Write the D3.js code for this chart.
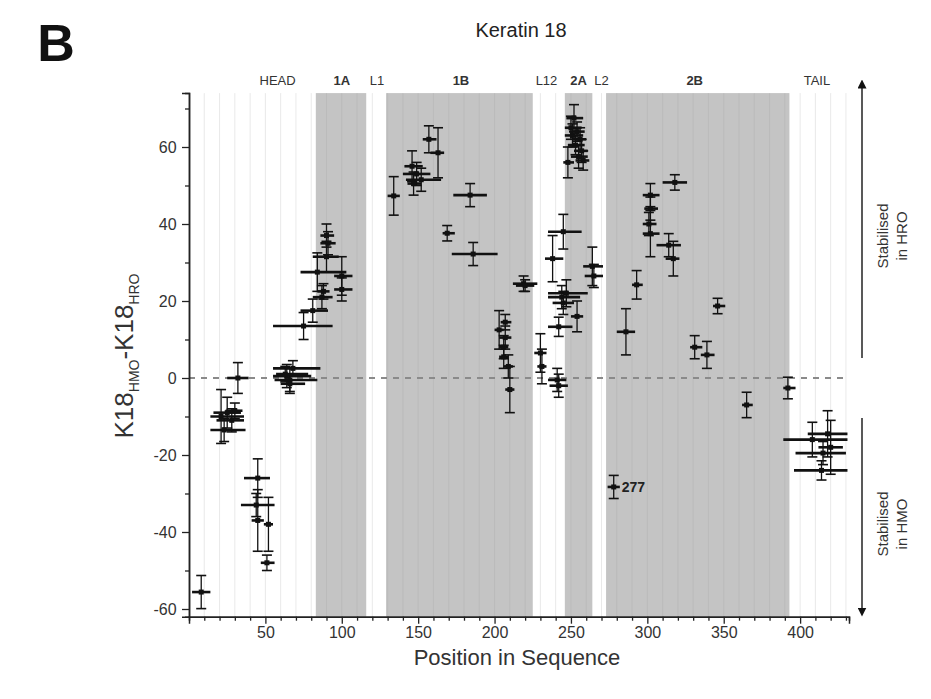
<!DOCTYPE html>
<html><head><meta charset="utf-8">
<script src="https://cdn.jsdelivr.net/npm/d3@7"></script>
<style>body{margin:0;background:#fff;} text{font-family:"Liberation Sans",Arial,sans-serif;}</style>
</head><body><svg id="c" width="931" height="699"></svg>
<script>
// ---- data ----
const pos    = [8,21,25,28,23,30,32,45,44,45,52,51,68,64,66,63,66,75,81,87,88,84,90,91,90,100,100,
                134,146,149,152,147,157,163,184,169,186,219,220,203,207,207,206,206,209,210,
                230,231,241,242,242,238,245,247,244,245,254,
                252,250,254,251,256,253,257,255,248,258,264,265,
                278,286,293,302,302,301,302,318,314,317,331,339,346,365,392,
                408,418,415,414,420];
const xStart = [2,14,16,18,14,24,25,36,34,41,49,47,55,55,56,57,60,55,73,81,84,73,81,86,86,95,95,
                130,141,140,142,143,153,158,173,166,172,212,214,200,204,203,203,203,206,207,
                226,228,235,236,235,233,235,235,235,238,250,
                247,246,249,246,251,248,252,250,245,253,258,259,
                274,280,290,297,298,297,297,310,306,312,328,335,343,362,389,
                389,405,397,396,412];
const xEnd   = [14,36,34,36,37,35,39,53,56,49,55,56,86,80,84,78,76,94,91,94,92,103,98,96,95,107,107,
                138,153,158,165,152,162,167,195,174,202,228,226,206,211,211,209,209,212,213,
                234,234,247,248,251,245,257,261,256,252,258,
                258,257,259,258,260,259,261,261,252,262,271,271,
                282,292,297,308,307,306,308,326,322,321,336,344,351,369,397,
                431,431,430,431,428];
const diff   = [-55.6,-10,-9,-11,-13.5,-8.5,0,-26,-33,-37,-38,-48,2.5,0.5,-0.5,1,-1.5,13.5,17.5,21,22.5,27.5,31.5,35,37,26.5,23,
                47.3,55,53,51.5,50.5,62,58.5,47.5,37.6,32.2,24.5,24,12.5,14.5,10.5,8,5.5,3,-3,
                6.5,3,-0.5,-2,13.3,31,38,22,21,19.5,16,
                67.5,65,64,63,62,60.5,59,57.5,56,56.5,29,26.5,
                -28.3,12,24.2,47.5,44,40,37.5,50.8,34.5,31,8,6,18.7,-7,-2.6,
                -16,-14.5,-19.5,-24,-18];
const err    = [4.3,7,4,3,3,2,4,5,3,8,7,2,2,3,3,2,2.5,3.5,3,3,2,5,4,3,3,5,3,
                5,4,3,3,3,3.5,6.5,3,2,3,2,1.5,5,2,3,3,3,3,6,
                5,4.5,3,3,2.5,6,4.5,3.5,3,3,4,
                3.5,3,2.5,3,3,2.5,3,3,4,2.5,5,3,
                3,6,3.7,3,3,3,6,2,3,4.5,3,3.5,2,3.3,2.8,
                4.5,6,3,2.5,7];
const annotated = {pos: 278, label: "277"};
const domainNames  = ["HEAD","1A","L1","1B","L12","2A","L2","2B","TAIL"];
const domainLabelAt= [58,100,123,178,234,255,270,331,411];
const domainBold   = [false,true,false,true,false,true,false,true,false];
const helixNames = ["1A","1B","2A","2B"];
const helixStart = [83,129,246,273];
const helixEnd   = [116,225,264,393];
const xTicks = [50,100,150,200,250,300,350,400];
const yTicks = [-60,-40,-20,0,20,40,60];

// ---- layout ----
const svg = d3.select("#c");
const x = d3.scaleLinear().domain([0,432]).range([189,849]);
const y = d3.scaleLinear().domain([-62,74]).range([616.7,93.1]);
const yTop = y(74), yBot = y(-62);
const fmt = d => String(d); // plain hyphen-minus like the original

// helix shading
svg.selectAll("rect.h").data(helixStart).join("rect")
  .attr("x",(d)=>x(d)).attr("y",yTop)
  .attr("width",(d,i)=>x(helixEnd[i])-x(d)).attr("height",yBot-yTop)
  .attr("fill","#c4c4c4");

// faint vertical grid every 10
svg.selectAll("line.g").data(d3.range(10,431,10)).join("line")
  .attr("x1",d=>x(d)).attr("x2",d=>x(d)).attr("y1",yTop).attr("y2",yBot)
  .attr("stroke","#9a9a9a").attr("stroke-opacity",0.22).attr("stroke-width",1);

// zero dashed line
svg.append("line").attr("x1",x(0)).attr("x2",x(432)).attr("y1",y(0)).attr("y2",y(0))
  .attr("stroke","#8a8a8a").attr("stroke-width",2).attr("stroke-dasharray","6,6");

// axes
const xAxisMinor = d3.axisBottom(x).tickValues(d3.range(10,431,10).filter(v=>v%50)).tickSize(4).tickFormat("");
const xAxisMajor = d3.axisBottom(x).tickValues(xTicks).tickSize(7).tickFormat(fmt);
const gx = svg.append("g").attr("transform",`translate(0,${yBot})`);
gx.call(xAxisMinor);
gx.append("g").call(xAxisMajor);
const yAxisMinor = d3.axisLeft(y).tickValues([-50,-30,-10,10,30,50,70]).tickSize(4).tickFormat("");
const yAxisMajor = d3.axisLeft(y).tickValues(yTicks).tickSize(7).tickFormat(fmt);
const gy = svg.append("g").attr("transform",`translate(${x(0)},0)`);
gy.call(yAxisMinor);
gy.append("g").call(yAxisMajor);
svg.selectAll(".domain").attr("stroke","#222").attr("stroke-width",1.5);
svg.selectAll(".tick line").attr("stroke","#222").attr("stroke-width",1.3);
gx.selectAll("text").attr("font-size",16).attr("fill","#333");
gy.selectAll("text").attr("font-size",16).attr("fill","#333").attr("dx","-0.15em");

// data marks
const idx = d3.range(pos.length);
const mk = svg.append("g").attr("stroke","#111");
idx.forEach(i=>{
  const cx = x(pos[i]), cy = y(diff[i]);
  mk.append("line").attr("x1",x(xStart[i])).attr("x2",x(xEnd[i])).attr("y1",cy).attr("y2",cy).attr("stroke-width",2.6);
  mk.append("line").attr("x1",cx).attr("x2",cx).attr("y1",y(diff[i]+err[i])).attr("y2",y(diff[i]-err[i])).attr("stroke-width",1.3);
  [diff[i]+err[i],diff[i]-err[i]].forEach(v=>{
    mk.append("line").attr("x1",cx-5).attr("x2",cx+5).attr("y1",y(v)).attr("y2",y(v)).attr("stroke-width",1.6);
  });
  mk.append("rect").attr("x",cx-2.5).attr("y",cy-2.5).attr("width",5).attr("height",5).attr("fill","#111").attr("stroke","none");
});
const ai = pos.indexOf(annotated.pos);
svg.append("text").attr("x",x(pos[ai])+8).attr("y",y(diff[ai])+5)
  .attr("font-size",14).attr("font-weight","bold").attr("fill","#222").text(annotated.label);

// domain labels
svg.selectAll("text.dl").data(domainNames).join("text")
  .attr("x",(d,i)=>x(domainLabelAt[i])).attr("y",85).attr("text-anchor","middle")
  .attr("font-size",13).attr("font-weight",(d,i)=>domainBold[i]?"bold":"normal").attr("fill","#333").text(d=>d);

// title & panel letter
svg.append("text").attr("x",521).attr("y",37).attr("text-anchor","middle").attr("font-size",20).attr("fill","#222").text("Keratin 18");
svg.append("text").attr("x",56).attr("y",61).attr("text-anchor","middle").attr("font-size",52).attr("font-weight","bold").attr("fill","#111").text("B");

// axis titles
svg.append("text").attr("x",517).attr("y",665).attr("text-anchor","middle").attr("font-size",22).attr("fill","#333").text("Position in Sequence");
const yl = svg.append("text").attr("transform","translate(133,356) rotate(-90)").attr("text-anchor","middle").attr("font-size",26).attr("fill","#333");
yl.append("tspan").text("K18");
yl.append("tspan").attr("font-size",14).attr("dy",6).text("HMO");
yl.append("tspan").attr("dy",-6).text("-K18");
yl.append("tspan").attr("font-size",14).attr("dy",6).text("HRO");

// right arrows
const defs = svg.append("defs");
defs.append("marker").attr("id","ah").attr("viewBox","0 0 10 10").attr("refX",5).attr("refY",5)
  .attr("markerWidth",6).attr("markerHeight",6).attr("orient","auto-start-reverse")
  .append("path").attr("d","M0,0 L10,5 L0,10 z").attr("fill","#111");
svg.append("line").attr("x1",862).attr("x2",862).attr("y1",358).attr("y2",84).attr("stroke","#222").attr("stroke-width",1.5).attr("marker-end","url(#ah)");
svg.append("line").attr("x1",862).attr("x2",862).attr("y1",418).attr("y2",612).attr("stroke","#222").attr("stroke-width",1.5).attr("marker-end","url(#ah)");
[["Stabilised","in HRO",236],["Stabilised","in HMO",524]].forEach(([a,b,cy])=>{
  svg.append("text").attr("transform",`translate(888,${cy}) rotate(-90)`).attr("text-anchor","middle").attr("font-size",15).attr("fill","#333").text(a);
  svg.append("text").attr("transform",`translate(907,${cy}) rotate(-90)`).attr("text-anchor","middle").attr("font-size",15).attr("fill","#333").text(b);
});
</script></body></html>
